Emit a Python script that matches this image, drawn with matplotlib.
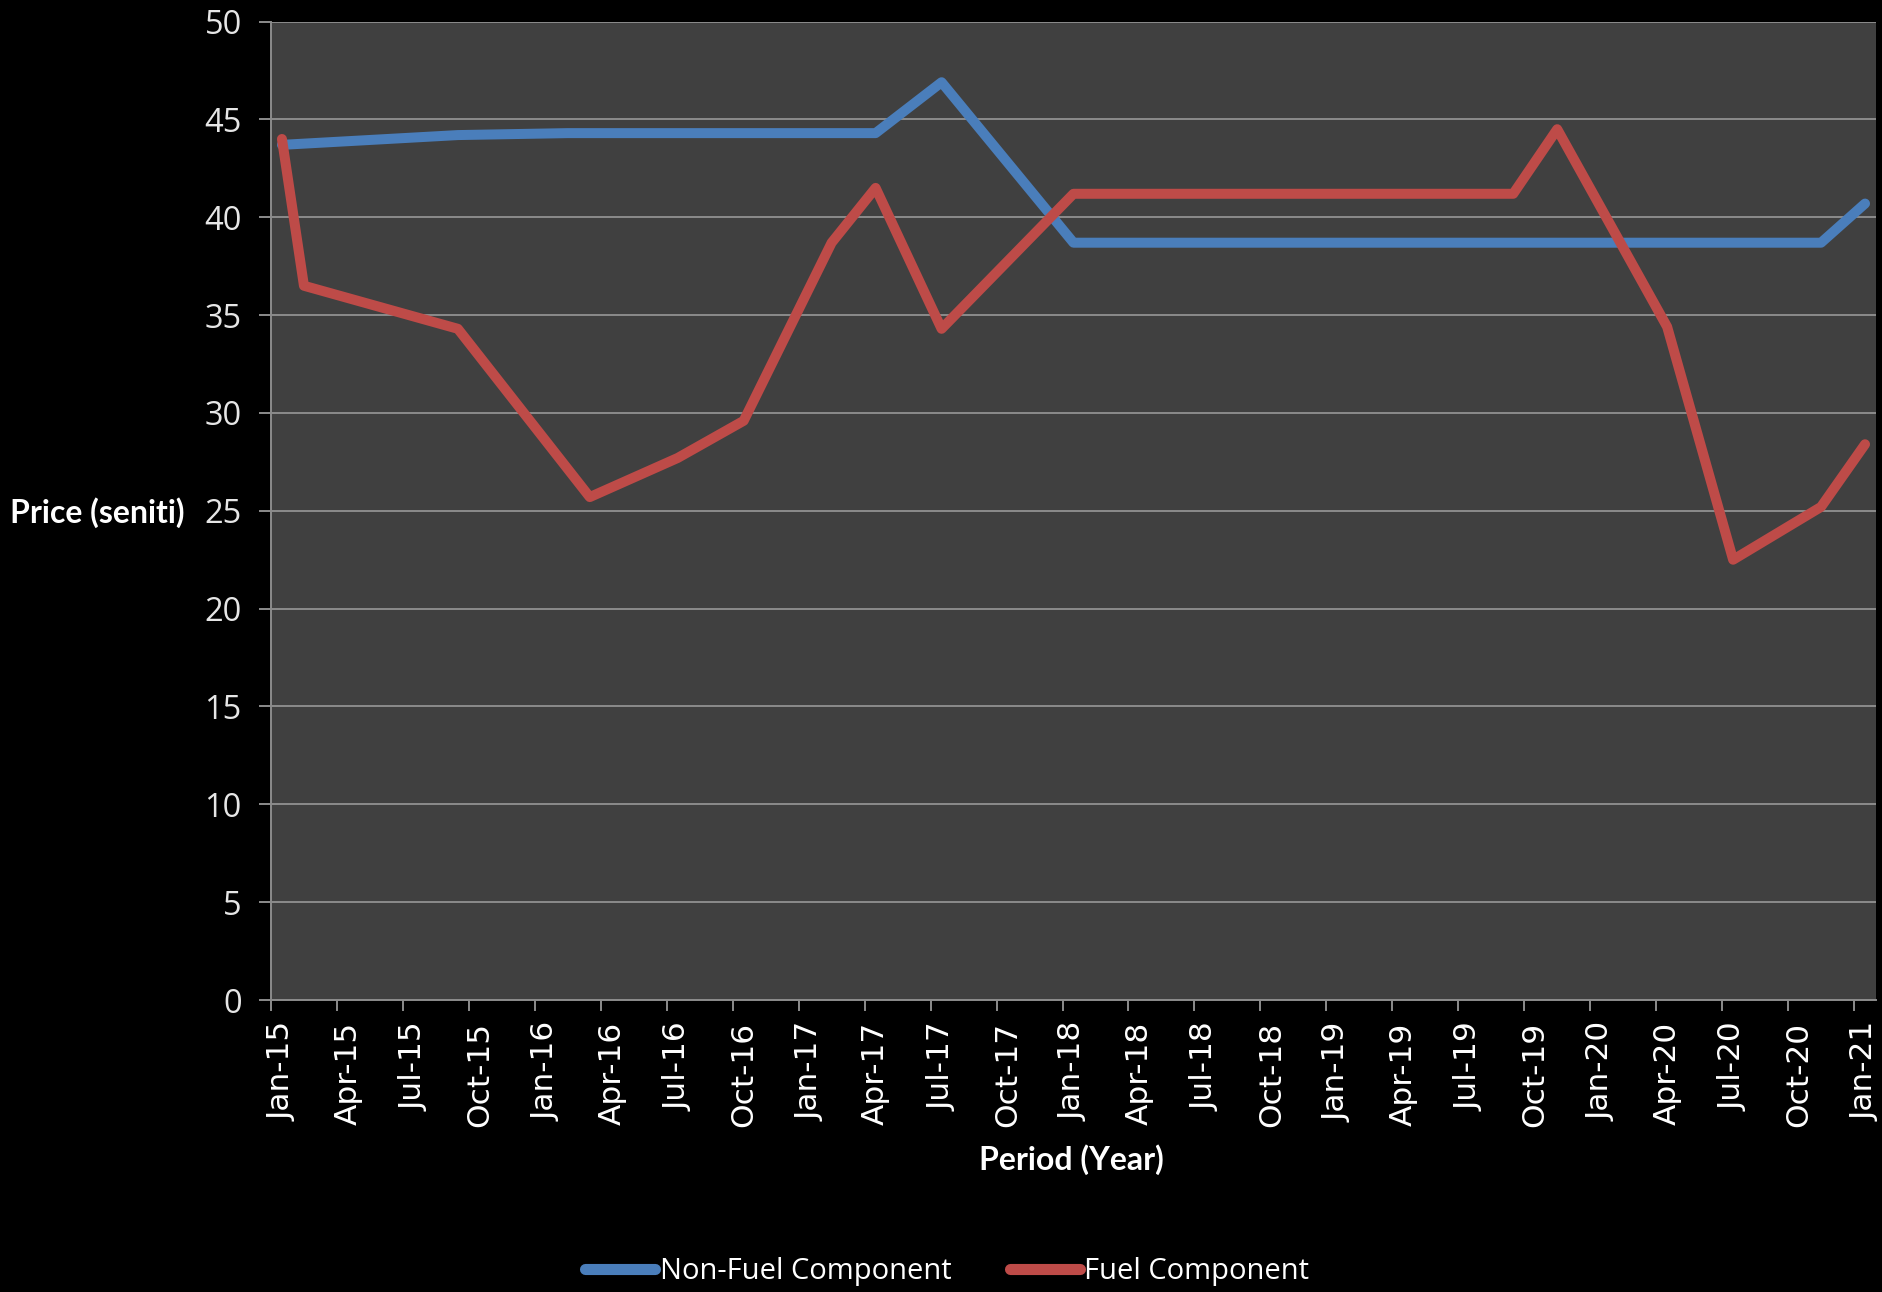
"""
Electricity price components (non-fuel vs fuel), Jan-15 to Jan-21.
"""
from datetime import datetime
import matplotlib
matplotlib.use('Agg')
import matplotlib.pyplot as plt
from matplotlib.lines import Line2D

# Data (vertices of each line)
nonfuel_dates = ['Jan-15', 'Sep-15', 'Feb-16', 'Apr-17', 'Jul-17',
                 'Jan-18', 'Nov-20', 'Jan-21']
nonfuel_vals = [43.7, 44.2, 44.3, 44.3, 46.9, 38.7, 38.7, 40.7]

fuel_dates = ['Jan-15', 'Feb-15', 'Sep-15', 'Mar-16', 'Jul-16', 'Oct-16',
              'Feb-17', 'Apr-17', 'Jul-17', 'Jan-18', 'Sep-19', 'Nov-19',
              'Apr-20', 'Jul-20', 'Nov-20', 'Jan-21']
fuel_vals = [44.0, 36.5, 34.3, 25.7, 27.7, 29.6, 38.7, 41.5, 34.3, 41.2,
             41.2, 44.5, 34.4, 22.5, 25.2, 28.4]

tick_labels = ['Jan-15', 'Apr-15', 'Jul-15', 'Oct-15', 'Jan-16', 'Apr-16',
               'Jul-16', 'Oct-16', 'Jan-17', 'Apr-17', 'Jul-17', 'Oct-17',
               'Jan-18', 'Apr-18', 'Jul-18', 'Oct-18', 'Jan-19', 'Apr-19',
               'Jul-19', 'Oct-19', 'Jan-20', 'Apr-20', 'Jul-20', 'Oct-20',
               'Jan-21']
y_ticks = [0, 5, 10, 15, 20, 25, 30, 35, 40, 45, 50]

BLUE = '#4A7EBB'
RED = '#BE4B48'
GRID = '#8C8C8C'


def month_index(label):
    # months since Jan-2015, one slot per month like an Excel date axis
    d = datetime.strptime(label, '%b-%y')
    return (d.year - 2015) * 12 + d.month - 1


nonfuel_x = [month_index(s) for s in nonfuel_dates]
fuel_x = [month_index(s) for s in fuel_dates]
tick_x = [month_index(s) for s in tick_labels]

fig = plt.figure(figsize=(18.83, 12.92), dpi=100, facecolor='black')
ax = fig.add_axes([0.1439, 0.2260, 0.8524, 0.7573])
ax.set_facecolor('#404040')

line_kw = dict(linewidth=7.2, solid_joinstyle='round', solid_capstyle='round')
ax.plot(nonfuel_x, nonfuel_vals, color=BLUE, zorder=3, **line_kw)
ax.plot(fuel_x, fuel_vals, color=RED, zorder=4, **line_kw)

# Axes limits
ax.set_xlim(-0.5, max(tick_x) + 0.5)
ax.set_ylim(0, 50)

# Y axis
ax.set_yticks(y_ticks)
ax.set_yticklabels([str(v) for v in y_ticks], family='Open Sans',
                   fontsize=23.5, color='#E6E6E6')
ax.yaxis.grid(True, color=GRID, linewidth=1.4)
ax.tick_params(axis='y', length=9, width=1.4, color=GRID, pad=12)

# X axis: tick marks on slot boundaries, labels centred in the slot
ax.set_xticks([x - 0.5 for x in tick_x])
ax.set_xticklabels([])
ax.set_xticks(tick_x, minor=True)
ax.set_xticklabels(tick_labels, minor=True, rotation=90, family='DejaVu Sans',
                   fontsize=22.5, color='white')
ax.tick_params(axis='x', which='major', length=8, width=1.4, color=GRID)
ax.tick_params(axis='x', which='minor', length=0, pad=16)

for side in ['top', 'right']:
    ax.spines[side].set_visible(False)
for side in ['left', 'bottom']:
    ax.spines[side].set_color(GRID)
    ax.spines[side].set_linewidth(1.4)
ax.set_axisbelow(True)

# Axis titles
fig.text(10 / 1883, 1 - 513 / 1292, 'Price (seniti)', ha='left', va='center',
         family='Lato', fontweight='bold', fontsize=23, color='white')
fig.text(1071 / 1883, 1 - 1160 / 1292, 'Period (Year)', ha='center',
         va='center', family='Lato', fontweight='bold', fontsize=23,
         color='white')

# Legend
handles = [
    Line2D([], [], color=BLUE, linewidth=8, solid_capstyle='round'),
    Line2D([], [], color=RED, linewidth=8, solid_capstyle='round'),
]
leg = fig.legend(handles, ['Non-Fuel Component', 'Fuel Component'],
                 loc='center', bbox_to_anchor=(0.503, 0.016), ncol=2,
                 frameon=False, handlelength=2.4, handletextpad=0.15,
                 columnspacing=2.0,
                 prop={'family': 'Open Sans', 'size': 21})
for t in leg.get_texts():
    t.set_color('white')

plt.savefig('out.png', dpi=100, facecolor='black')
plt.close(fig)
